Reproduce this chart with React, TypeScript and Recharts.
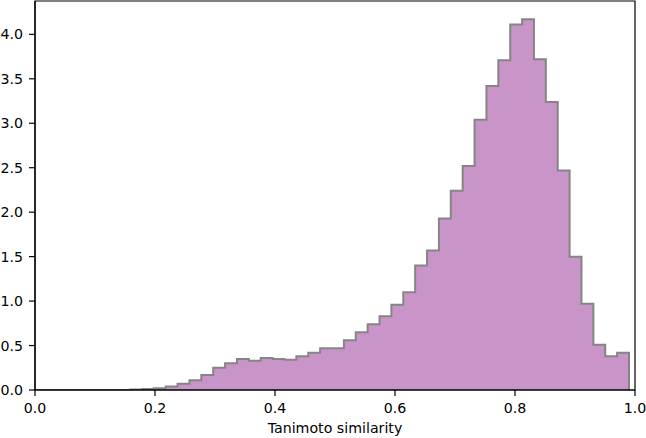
import React from "react";
import { AreaChart, Area, XAxis, YAxis, ReferenceArea } from "recharts";

// Histogram density values (50 bins spanning 0.00 – 0.99)
const densities: number[] = [
  0, 0, 0, 0, 0, 0, 0, 0, 0.005, 0.01,
  0.02, 0.04, 0.07, 0.11, 0.17, 0.25, 0.3, 0.35, 0.33, 0.36,
  0.35, 0.34, 0.38, 0.42, 0.47, 0.47, 0.56, 0.65, 0.74, 0.83,
  0.96, 1.1, 1.4, 1.57, 1.93, 2.24, 2.52, 3.04, 3.42, 3.71,
  4.11, 4.17, 3.72, 3.24, 2.47, 1.5, 0.97, 0.51, 0.38, 0.42,
];
const binStart = 0;
const binEnd = 0.99;
const xTicks = [0, 0.2, 0.4, 0.6, 0.8, 1.0];
const yTicks = [0, 0.5, 1.0, 1.5, 2.0, 2.5, 3.0, 3.5, 4.0];
const xLabel = "Tanimoto similarity";

const binWidth = (binEnd - binStart) / densities.length;
const data = [
  ...densities.map((d, i) => ({ x: binStart + i * binWidth, density: d })),
  { x: binEnd, density: 0 },
];

const FONT = "DejaVu Sans, sans-serif";
const tickStyle = { fontFamily: FONT, fontSize: 14.2, fill: "#000" };

export default function App() {
  return (
    <div style={{ position: "absolute", left: 0, top: 0, background: "#fff" }}>
      <AreaChart
        width={646}
        height={438}
        data={data}
        margin={{ top: 1, right: 11, left: 0, bottom: 0 }}
      >
        <XAxis
          dataKey="x"
          type="number"
          domain={[0, 1]}
          ticks={xTicks}
          tickFormatter={(v: number) => v.toFixed(1)}
          allowDataOverflow
          height={48}
          tickSize={6}
          tickMargin={7}
          tick={tickStyle}
          axisLine={{ stroke: "#000", strokeWidth: 1.2 }}
          tickLine={{ stroke: "#000", strokeWidth: 1.2 }}
          label={{
            value: xLabel,
            position: "insideBottom",
            offset: 5,
            style: { fontFamily: FONT, fontSize: 14.2, fill: "#000" },
          }}
        />
        <YAxis
          type="number"
          domain={[0, 4.375]}
          ticks={yTicks}
          tickFormatter={(v: number) => v.toFixed(1)}
          allowDataOverflow
          width={35}
          tickSize={6}
          tickMargin={6}
          tick={tickStyle}
          axisLine={{ stroke: "#000", strokeWidth: 1.2 }}
          tickLine={{ stroke: "#000", strokeWidth: 1.2 }}
        />
        <Area
          type="stepAfter"
          dataKey="density"
          fill="#c994c7"
          fillOpacity={1}
          stroke="#858585"
          strokeWidth={2}
          isAnimationActive={false}
          dot={false}
          activeDot={false}
        />
        <ReferenceArea
          x1={0}
          x2={1}
          y1={0}
          y2={4.375}
          fill="none"
          fillOpacity={0}
          stroke="#000"
          strokeWidth={1.2}
          ifOverflow="visible"
        />
      </AreaChart>
    </div>
  );
}
